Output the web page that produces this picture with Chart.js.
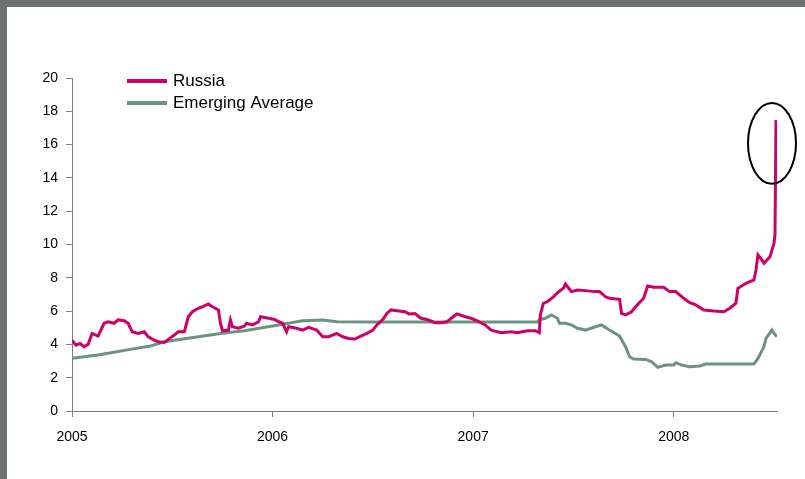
<!DOCTYPE html>
<html>
<head>
<meta charset="utf-8">
<script src="https://cdn.jsdelivr.net/npm/chart.js@4.4.1/dist/chart.umd.min.js"></script>
<style>
  html, body { margin: 0; padding: 0; }
  body { width: 805px; height: 479px; background: #6c716d; overflow: hidden; position: relative; }
  #wrap { position: absolute; left: 7px; top: 7px; width: 798px; height: 472px; background: #fff; }
</style>
</head>
<body>
<div id="wrap"><canvas id="spreadChart"></canvas></div>
<script>
// Russia, decimal year / value
const russiaYears = [
  2005.00, 2005.02, 2005.04, 2005.06, 2005.08, 2005.10, 2005.13, 2005.16, 2005.18, 2005.21,
  2005.23, 2005.26, 2005.28, 2005.30, 2005.33, 2005.36, 2005.38, 2005.41, 2005.43, 2005.46,
  2005.48, 2005.51, 2005.53, 2005.56, 2005.58, 2005.60, 2005.63, 2005.65, 2005.68, 2005.70,
  2005.73, 2005.74, 2005.75, 2005.78, 2005.79, 2005.80, 2005.83, 2005.86, 2005.87, 2005.90,
  2005.93, 2005.94, 2005.98, 2006.01, 2006.03, 2006.05, 2006.07, 2006.08, 2006.12, 2006.15,
  2006.18, 2006.22, 2006.25, 2006.28, 2006.32, 2006.35, 2006.38, 2006.41, 2006.44, 2006.47,
  2006.50, 2006.52, 2006.55, 2006.57, 2006.59, 2006.62, 2006.66, 2006.68, 2006.71, 2006.73,
  2006.74, 2006.77, 2006.81, 2006.84, 2006.87, 2006.90, 2006.92, 2006.96, 2006.99, 2007.02,
  2007.06, 2007.09, 2007.14, 2007.19, 2007.22, 2007.27, 2007.31, 2007.33, 2007.335, 2007.35,
  2007.37, 2007.40, 2007.42, 2007.45, 2007.46, 2007.49, 2007.52, 2007.56, 2007.61, 2007.63,
  2007.66, 2007.68, 2007.73, 2007.74, 2007.76, 2007.79, 2007.81, 2007.85, 2007.87, 2007.90,
  2007.95, 2007.98, 2008.01, 2008.05, 2008.08, 2008.11, 2008.15, 2008.20, 2008.25, 2008.28,
  2008.31, 2008.32, 2008.36, 2008.40, 2008.41, 2008.42, 2008.44, 2008.45, 2008.48, 2008.50,
  2008.505, 2008.51
];
const russiaValues = [
  4.26, 3.96, 4.06, 3.86, 4.00, 4.66, 4.50, 5.27, 5.36, 5.27,
  5.47, 5.42, 5.27, 4.76, 4.66, 4.76, 4.46, 4.26, 4.16, 4.12,
  4.30, 4.56, 4.76, 4.76, 5.66, 5.96, 6.17, 6.26, 6.43, 6.26,
  6.07, 5.27, 4.82, 4.86, 5.47, 5.06, 4.97, 5.10, 5.27, 5.17,
  5.36, 5.66, 5.57, 5.50, 5.36, 5.27, 4.76, 5.06, 4.97, 4.86,
  5.03, 4.86, 4.46, 4.46, 4.66, 4.46, 4.36, 4.32, 4.50, 4.66,
  4.86, 5.17, 5.50, 5.86, 6.07, 6.02, 5.96, 5.83, 5.86, 5.66,
  5.57, 5.50, 5.30, 5.30, 5.36, 5.66, 5.83, 5.66, 5.57, 5.42,
  5.17, 4.86, 4.70, 4.76, 4.70, 4.82, 4.82, 4.70, 5.77, 6.47,
  6.56, 6.86, 7.10, 7.37, 7.63, 7.17, 7.27, 7.23, 7.17, 7.17,
  6.86, 6.77, 6.71, 5.86, 5.77, 5.96, 6.26, 6.77, 7.51, 7.43,
  7.43, 7.17, 7.17, 6.77, 6.50, 6.37, 6.07, 6.00, 5.96, 6.17,
  6.47, 7.37, 7.67, 7.87, 8.47, 9.37, 9.07, 8.87, 9.27, 10.07,
  10.60, 17.48
];

// Emerging markets average
const emergingYears = [
  2005.00, 2005.13, 2005.29, 2005.39, 2005.46, 2005.63, 2005.74, 2005.86, 2006.00, 2006.15,
  2006.25, 2006.32, 2006.50, 2006.75, 2007.00, 2007.20, 2007.32, 2007.33, 2007.36, 2007.39,
  2007.42, 2007.43, 2007.46, 2007.49, 2007.52, 2007.56, 2007.61, 2007.64, 2007.68, 2007.73,
  2007.76, 2007.78, 2007.80, 2007.86, 2007.89, 2007.92, 2007.96, 2008.00, 2008.01, 2008.04,
  2008.08, 2008.13, 2008.16, 2008.30, 2008.40, 2008.42, 2008.45, 2008.46, 2008.49, 2008.50,
  2008.515
];
const emergingValues = [
  3.16, 3.36, 3.70, 3.90, 4.16, 4.46, 4.66, 4.82, 5.10, 5.42,
  5.47, 5.36, 5.35, 5.35, 5.35, 5.35, 5.35, 5.47, 5.57, 5.77,
  5.57, 5.27, 5.27, 5.17, 4.97, 4.86, 5.06, 5.17, 4.86, 4.50,
  3.86, 3.26, 3.12, 3.10, 2.96, 2.62, 2.76, 2.76, 2.90, 2.76,
  2.66, 2.70, 2.82, 2.82, 2.82, 3.16, 3.86, 4.36, 4.86, 4.66,
  4.46
];

const seriesNames = ["Russia", "Emerging Average"];
const seriesColors = ["#cc0066", "#6b9480"];
const xMin = 2005, xMax = 2008.515;
const yMin = 0, yMax = 20, yStep = 2;

const toPoints = (xs, ys) => xs.map((x, i) => ({ x: x, y: ys[i] }));

const FONT = "'Liberation Sans', Arial, sans-serif";
const AXIS_GREY = "#7f7f7f";

// legend drawn as two stacked rows inside the plot
const stackedLegend = {
  id: "stackedLegend",
  afterDraw(chart) {
    const ctx = chart.ctx;
    const left = 120, top = 74, rowGap = 22;
    ctx.save();
    chart.data.datasets.forEach((ds, i) => {
      const y = top + i * rowGap;
      ctx.strokeStyle = ds.borderColor;
      ctx.lineWidth = 4;
      ctx.beginPath();
      ctx.moveTo(left, y);
      ctx.lineTo(left + 40, y);
      ctx.stroke();
      ctx.fillStyle = "#000";
      ctx.font = "17px " + FONT;
      ctx.textBaseline = "middle";
      ctx.fillText(ds.label, left + 46, y);
    });
    ctx.restore();
  }
};

// circle the last spike of the Russia series
const spikeRing = {
  id: "spikeRing",
  afterDatasetsDraw(chart) {
    const xs = chart.scales.x, ys = chart.scales.y;
    const last = russiaYears.length - 1;
    const cx = xs.getPixelForValue(russiaYears[last]) - 4;
    const top = ys.getPixelForValue(18.5), bottom = ys.getPixelForValue(13.65);
    const ctx = chart.ctx;
    ctx.save();
    ctx.strokeStyle = "#000";
    ctx.lineWidth = 2;
    ctx.beginPath();
    ctx.ellipse(cx, (top + bottom) / 2, 24, (bottom - top) / 2, 0, 0, Math.PI * 2);
    ctx.stroke();
    ctx.restore();
  }
};

new Chart(document.getElementById("spreadChart"), {
  type: "line",
  data: {
    datasets: [
      {
        label: seriesNames[0],
        data: toPoints(russiaYears, russiaValues),
        borderColor: seriesColors[0],
        borderWidth: 3,
        pointRadius: 0,
        tension: 0,
        order: 1
      },
      {
        label: seriesNames[1],
        data: toPoints(emergingYears, emergingValues),
        borderColor: seriesColors[1],
        borderWidth: 3,
        pointRadius: 0,
        tension: 0,
        order: 2
      }
    ]
  },
  options: {
    responsive: true,
    maintainAspectRatio: false,
    animation: false,
    layout: { padding: { top: 71, right: 28, left: 0, bottom: 0 } },
    plugins: {
      legend: { display: false },
      tooltip: { enabled: false }
    },
    scales: {
      x: {
        type: "linear",
        min: xMin,
        max: xMax,
        afterFit: s => { s.height = 68; },
        border: { color: AXIS_GREY, width: 1 },
        grid: { drawOnChartArea: false, color: AXIS_GREY, tickLength: 6 },
        ticks: {
          stepSize: 1,
          includeBounds: false,
          padding: 12,
          color: "#000",
          font: { family: FONT, size: 14 },
          maxRotation: 0,
          callback: v => String(v)
        }
      },
      y: {
        min: yMin,
        max: yMax,
        afterFit: s => { s.width = 65; },
        border: { color: AXIS_GREY, width: 1 },
        grid: { drawOnChartArea: false, color: AXIS_GREY, tickLength: 6 },
        ticks: {
          stepSize: yStep,
          padding: 8,
          color: "#000",
          font: { family: FONT, size: 14 }
        }
      }
    }
  },
  plugins: [stackedLegend, spikeRing]
});
</script>
</body>
</html>
